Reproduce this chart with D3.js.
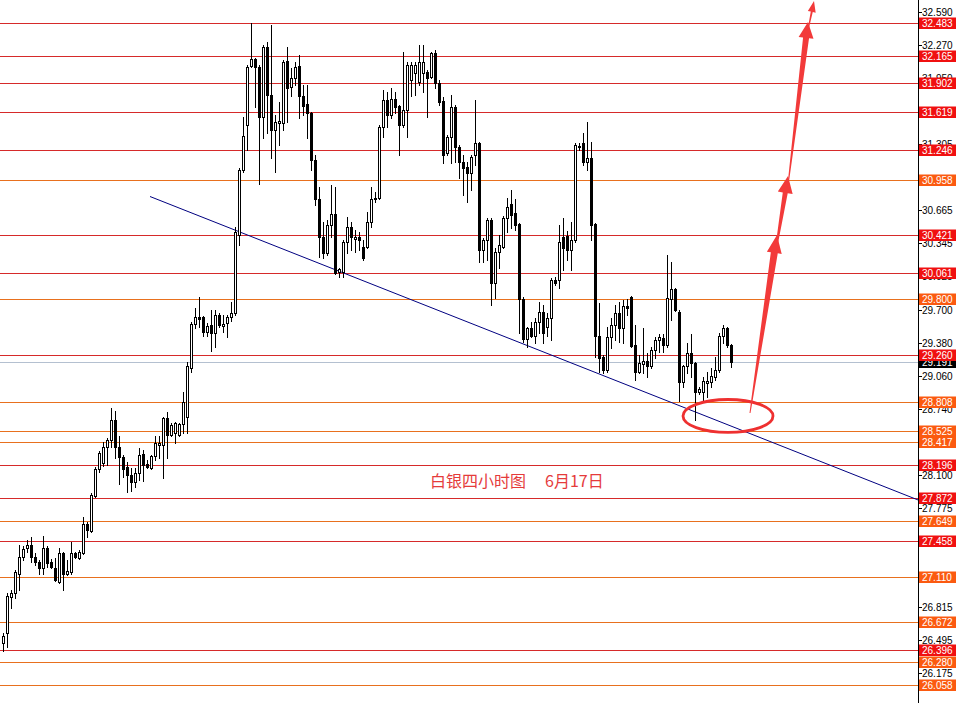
<!DOCTYPE html>
<html><head><meta charset="utf-8">
<script src="https://cdn.jsdelivr.net/npm/d3@7"></script>
<style>body{margin:0;background:#fff}svg{display:block}</style>
</head><body><svg id="c" width="956" height="703"></svg>
<script>
const opens = [
26.47,26.56,26.91,26.95,27.14,27.30,27.39,27.42,27.30,27.25,
27.19,27.39,27.25,27.19,27.06,27.34,27.14,27.15,27.34,27.29,
27.34,27.62,27.55,27.89,28.15,28.21,28.37,28.44,28.63,28.37,
28.27,28.17,28.10,28.03,28.12,28.30,28.20,28.16,28.28,28.39,
28.39,28.65,28.48,28.50,28.48,28.59,28.66,29.13,29.56,29.63,
29.63,29.48,29.55,29.47,29.65,29.54,29.57,29.63,29.67,30.43,
31.06,31.49,32.07,32.13,32.06,31.57,32.25,31.78,31.44,31.51,
31.51,32.11,31.86,31.95,32.07,31.77,31.70,31.61,31.15,30.77,
30.41,30.25,30.52,30.63,30.07,30.07,30.36,30.50,30.39,30.41,
30.31,30.31,30.55,30.77,30.78,31.47,31.74,31.59,31.75,31.68,
31.49,31.64,31.93,32.00,31.91,32.00,32.01,31.96,32.19,31.90,
31.73,31.22,31.38,31.67,31.28,31.13,31.09,31.03,31.20,31.32,
30.28,30.38,30.57,29.96,30.26,30.31,30.59,30.73,30.64,30.53,
29.80,29.42,29.52,29.45,29.58,29.68,29.53,29.62,29.99,29.99,
30.41,30.42,30.28,30.38,31.28,31.32,31.13,31.17,30.53,29.45,
29.24,29.12,29.44,29.55,29.67,29.52,29.74,29.82,29.36,29.10,
29.17,29.20,29.15,29.31,29.41,29.43,29.36,29.80,29.90,29.68,
29.00,29.15,29.28,29.18,28.90,28.90,28.99,29.00,29.05,29.12,
29.45,29.52,29.36];
const highs = [
26.56,26.95,26.98,27.17,27.42,27.41,27.47,27.49,27.34,27.27,
27.50,27.41,27.28,27.29,27.39,27.35,27.27,27.45,27.35,27.37,
27.69,27.64,27.92,28.17,28.33,28.42,28.46,28.75,28.72,28.47,
28.29,28.22,28.16,28.16,28.36,28.34,28.24,28.29,28.47,28.47,
28.66,28.71,28.60,28.61,28.60,28.90,29.19,29.58,29.72,29.82,
29.64,29.57,29.70,29.70,29.67,29.65,29.65,29.78,30.50,31.08,
31.57,32.08,32.48,32.14,32.08,32.27,32.30,32.46,31.59,31.72,
32.12,32.25,32.05,32.10,32.17,31.88,31.88,31.62,31.20,30.89,
30.55,30.57,30.91,30.89,30.11,30.38,30.60,30.55,30.47,30.45,
30.38,30.65,30.89,30.84,31.49,31.83,31.81,31.85,31.81,31.69,
32.20,32.10,32.10,32.10,32.27,32.27,32.03,32.20,32.22,31.93,
31.76,31.40,31.78,31.69,31.30,31.20,31.13,31.20,31.74,31.33,
30.40,30.59,30.59,30.30,30.43,30.61,30.78,30.86,30.77,30.54,
29.82,29.53,29.58,29.62,29.78,29.75,29.67,30.01,30.02,30.52,
30.59,30.46,30.55,31.32,31.32,31.42,31.52,31.33,30.54,29.77,
29.26,29.53,29.62,29.75,29.78,29.79,29.80,29.83,29.55,29.26,
29.52,29.28,29.34,29.44,29.46,29.46,30.23,30.16,29.91,29.70,
29.16,29.38,29.46,29.19,28.95,29.05,29.10,29.13,29.24,29.47,
29.55,29.53,29.37];
const lows = [
26.39,26.43,26.81,26.90,26.98,27.27,27.35,27.25,27.22,27.14,
27.14,27.20,27.19,27.07,27.05,26.98,27.13,27.14,27.29,27.28,
27.33,27.49,27.54,27.88,28.13,28.18,28.19,28.37,28.26,28.01,
28.08,27.93,27.94,27.98,28.05,28.04,28.16,28.15,28.24,28.26,
28.07,28.26,28.47,28.41,28.47,28.50,28.50,29.10,29.52,29.53,
29.45,29.45,29.30,29.34,29.53,29.48,29.44,29.59,29.65,30.33,
31.04,31.25,32.06,31.67,30.92,31.37,31.42,31.17,31.04,31.30,
31.44,31.52,31.77,31.88,31.56,31.59,31.37,31.06,30.72,30.21,
30.20,30.23,30.41,30.05,30.02,30.02,30.25,30.28,30.26,30.28,
30.18,30.30,30.50,30.75,30.77,31.38,31.47,31.56,31.61,31.20,
31.47,31.38,31.77,31.78,31.88,31.81,31.57,31.95,31.85,31.69,
31.12,31.20,31.12,31.13,30.98,30.81,30.75,30.86,31.10,30.16,
30.16,30.18,29.75,29.81,30.11,30.30,30.45,30.49,30.47,29.47,
29.39,29.34,29.44,29.38,29.47,29.38,29.45,29.41,29.94,29.91,
30.09,30.18,30.09,30.36,31.25,31.10,31.06,30.38,29.24,29.10,
29.09,29.10,29.33,29.41,29.39,29.38,29.65,29.34,29.02,29.09,
29.09,29.05,29.13,29.23,29.29,29.29,29.34,29.60,29.69,28.81,
28.95,29.09,29.05,28.63,28.88,28.82,28.85,28.95,29.02,29.10,
29.38,29.34,29.14];
const closes = [
26.53,26.92,26.95,27.15,27.30,27.38,27.42,27.30,27.25,27.19,
27.39,27.24,27.20,27.08,27.34,27.14,27.16,27.34,27.30,27.35,
27.62,27.56,27.90,28.15,28.31,28.37,28.44,28.63,28.37,28.27,
28.15,28.10,28.03,28.12,28.29,28.19,28.17,28.28,28.41,28.41,
28.65,28.48,28.58,28.60,28.59,28.80,29.15,29.56,29.63,29.61,
29.48,29.54,29.47,29.65,29.55,29.56,29.63,29.67,30.45,31.06,
31.39,32.06,32.13,32.06,31.57,32.25,31.78,31.44,31.52,31.53,
32.10,31.85,31.95,32.06,31.77,31.68,31.61,31.15,30.77,30.41,
30.25,30.52,30.63,30.06,30.10,30.36,30.50,30.41,30.41,30.38,
30.20,30.55,30.77,30.78,31.47,31.74,31.59,31.75,31.67,31.49,
31.64,32.08,32.08,32.08,32.10,32.10,31.95,32.19,31.90,31.72,
31.20,31.38,31.67,31.28,31.13,31.08,31.03,31.18,31.32,30.28,
30.38,30.57,29.96,30.26,30.33,30.59,30.70,30.62,30.52,29.80,
29.42,29.52,29.45,29.58,29.68,29.47,29.62,29.99,29.96,30.36,
30.30,30.28,30.38,31.30,31.29,31.13,31.17,30.52,29.45,29.23,
29.12,29.44,29.55,29.67,29.52,29.74,29.72,29.35,29.10,29.18,
29.20,29.15,29.31,29.41,29.44,29.36,29.81,29.90,29.70,29.00,
29.15,29.28,29.18,28.90,28.93,29.01,29.01,29.06,29.12,29.45,
29.52,29.36,29.19];

const levelValues = [32.483,32.165,31.902,31.619,31.246,30.958,30.421,30.061,29.800,29.260,28.808,28.525,28.417,28.196,27.872,27.649,27.458,27.110,26.672,26.396,26.280,26.058];
const levelKinds  = ['R','R','R','R','R','O','R','R','O','R','O','O','O','R','R','O','R','O','O','R','O','O'];
const tickValues = [32.590,32.270,31.950,31.625,31.305,30.985,30.665,30.345,30.025,29.700,29.380,29.060,28.740,28.420,28.100,27.775,27.455,27.135,26.815,26.495,26.175];
// tick labels that sit fully under a level label in the reference
const hiddenTickLabels = [31.625,30.985,28.420,27.455,27.135];
const currentPrice = 29.191;
// annotations in [bar index, price]
const trendLine = [[36.75,30.799],[228.75,27.854]];
const arrowSegs = [
  {from:[186.75,28.698], to:[193.5,30.425], tw:1, nw:7, hl:18, hw:15},
  {from:[193.5,30.348],  to:[196.25,30.998], tw:2, nw:5, hl:17, hw:15},
  {from:[196.25,30.911], to:[201.25,32.4925], tw:1, nw:6, hl:16, hw:15},
  {from:[201.25,32.415], to:[202.75,32.696], tw:1, nw:2, hl:11, hw:8}
];
const ellipseCenter = [181.25, 28.669];
const ellipseRadius = [11.25, 0.16]; // bars, price
const titleText = "白银四小时图";
const dateText = "6月17日";

const svg = d3.select('#c');
const W = 956, H = 703, axisX = 918;
const x = d3.scaleLinear().domain([0,182]).range([3,731]);
const y = d3.scaleLinear().domain([26.058,32.483]).range([685,23]);
const cy = v => Math.round(y(v)) + 0.5;

svg.append('rect').attr('width',W).attr('height',H).attr('fill','#fff');

const lineColor = {R:'#d62a2a', O:'#e8701e'};
const boxColor = {R:'#f01010', O:'#fb5a10'};

svg.append('line').attr('x1',0).attr('x2',axisX).attr('y1',cy(currentPrice)).attr('y2',cy(currentPrice))
  .attr('stroke','#b4c0d0').attr('stroke-width',1);

svg.append('g').selectAll('line').data(levelValues).join('line')
  .attr('x1',0).attr('x2',axisX)
  .attr('y1',d=>cy(d)).attr('y2',d=>cy(d))
  .attr('stroke',(d,i)=>lineColor[levelKinds[i]]).attr('stroke-width',1);

svg.append('line')
  .attr('x1',x(trendLine[0][0])).attr('y1',y(trendLine[0][1]))
  .attr('x2',x(trendLine[1][0])).attr('y2',y(trendLine[1][1]))
  .attr('stroke','#000080').attr('stroke-width',1);

const idx = d3.range(opens.length);
const g = svg.append('g');
idx.forEach(i=>{
  const k = Math.round(x(i));
  const o = opens[i], c = closes[i], h = highs[i], l = lows[i];
  g.append('line').attr('x1',k+0.5).attr('x2',k+0.5)
    .attr('y1',Math.round(y(h))).attr('y2',Math.round(y(l))+1)
    .attr('stroke','#000').attr('stroke-width',1);
  const top = Math.round(y(Math.max(o,c)));
  const bot = Math.round(y(Math.min(o,c)));
  const hgt = Math.max(1, bot-top);
  g.append('rect').attr('x',k-0.5).attr('y',top+0.5).attr('width',2).attr('height',hgt)
    .attr('fill', c>=o ? '#fff' : '#000').attr('stroke','#000').attr('stroke-width',1);
});

svg.append('ellipse')
  .attr('cx',x(ellipseCenter[0])).attr('cy',y(ellipseCenter[1]))
  .attr('rx',x(ellipseCenter[0]+ellipseRadius[0])-x(ellipseCenter[0]))
  .attr('ry',y(ellipseCenter[1]-ellipseRadius[1])-y(ellipseCenter[1]))
  .attr('fill','none').attr('stroke','#ee3030').attr('stroke-width',2.8);

function arrowPath(s){
  const x0=x(s.from[0]), y0=y(s.from[1]), x1=x(s.to[0]), y1=y(s.to[1]);
  const dx=x1-x0, dy=y1-y0, L=Math.hypot(dx,dy);
  const ux=dx/L, uy=dy/L, px=-uy, py=ux;
  const nx=x1-ux*s.hl, ny=y1-uy*s.hl;
  const pts=[
    [x0+px*s.tw/2, y0+py*s.tw/2],
    [nx+px*s.nw/2, ny+py*s.nw/2],
    [nx+px*s.hw/2, ny+py*s.hw/2],
    [x1,y1],
    [nx-px*s.hw/2, ny-py*s.hw/2],
    [nx-px*s.nw/2, ny-py*s.nw/2],
    [x0-px*s.tw/2, y0-py*s.tw/2]
  ];
  return 'M'+pts.map(p=>p[0].toFixed(2)+','+p[1].toFixed(2)).join('L')+'Z';
}
svg.append('g').selectAll('path').data(arrowSegs).join('path')
  .attr('d',arrowPath).attr('fill','#f23a3a').attr('stroke','none');

const tg = svg.append('g').attr('font-family','"Noto Sans CJK SC", sans-serif').attr('font-size',16).attr('fill','#e53b3b');
tg.append('text').attr('x',430).attr('y',487).text(titleText);
tg.append('text').attr('x',545).attr('y',487).text(dateText);

svg.append('rect').attr('x',axisX+1).attr('y',0).attr('width',W-axisX-1).attr('height',H).attr('fill','#fff');
svg.append('line').attr('x1',axisX+0.5).attr('x2',axisX+0.5).attr('y1',0).attr('y2',H).attr('stroke','#000');
const ax = svg.append('g').attr('font-family','"Liberation Sans", Arial, sans-serif').attr('font-size',10);
tickValues.forEach(t=>{
  const yy = cy(t);
  ax.append('line').attr('x1',axisX).attr('x2',axisX+4).attr('y1',yy).attr('y2',yy).attr('stroke','#000');
  if (!hiddenTickLabels.includes(t))
    ax.append('text').attr('x',922).attr('y',yy).attr('dy','0.35em').attr('fill','#000').text(t.toFixed(3));
});

function label(v, bg){
  const yy = Math.round(y(v));
  ax.append('rect').attr('x',axisX+1).attr('y',yy-5.5).attr('width',W-axisX-1).attr('height',11.5).attr('fill',bg);
  ax.append('text').attr('x',922).attr('y',yy).attr('dy','0.36em').attr('fill','#fff').text(v.toFixed(3));
}
label(currentPrice,'#000');
levelValues.forEach((v,i)=>label(v, boxColor[levelKinds[i]]));
</script></body></html>
